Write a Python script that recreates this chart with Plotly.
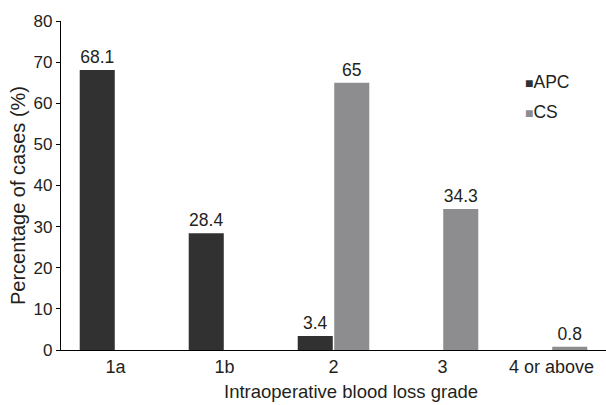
import plotly.graph_objects as go

# Intraoperative blood loss grade distribution by procedure
grades = ["1a", "1b", "2", "3", "4 or above"]
apc_pct = [68.1, 28.4, 3.4, None, None]
cs_pct = [None, None, 65, 34.3, 0.8]

APC_COLOR = "#313131"
CS_COLOR = "#8d8d90"
TEXT_COLOR = "#231f20"
FONT = "Liberation Sans, Arial, Helvetica, sans-serif"
FS = 17.5

W, H = 606, 405
ML, MR, MT, MB = 61, 0, 21, 55
PLOT_W = W - ML - MR
PLOT_H = H - MT - MB


def px_to_paper(px_x, px_y):
    return (px_x - ML) / PLOT_W, 1 - (px_y - MT) / PLOT_H


def labels(values):
    return ["" if v is None else f"{v:g}" for v in values]


fig = go.Figure()
fig.add_trace(go.Bar(
    name="APC", x=grades, y=apc_pct, marker_color=APC_COLOR,
    marker_line_width=0, text=labels(apc_pct), textposition="outside",
    textfont=dict(size=FS, color=TEXT_COLOR), cliponaxis=False,
))
fig.add_trace(go.Bar(
    name="CS", x=grades, y=cs_pct, marker_color=CS_COLOR,
    marker_line_width=0, text=labels(cs_pct), textposition="outside",
    textfont=dict(size=FS, color=TEXT_COLOR), cliponaxis=False,
))

# Compact legend drawn as text: small coloured square followed by the name
for i, (name, color) in enumerate([("APC", APC_COLOR), ("CS", CS_COLOR)]):
    ax, ay = px_to_paper(523, 82 + 30 * i)
    fig.add_annotation(
        x=ax, y=ay, xref="paper", yref="paper", showarrow=False,
        xanchor="left", yanchor="middle",
        text=f"<span style='color:{color};font-size:14px'>■</span>{name}",
        font=dict(size=FS, color=TEXT_COLOR, family=FONT),
    )

# Axis titles
tx, ty = px_to_paper(351, 391)
fig.add_annotation(
    x=tx, y=ty, xref="paper", yref="paper", showarrow=False,
    xanchor="center", yanchor="middle",
    text="Intraoperative blood loss grade",
    font=dict(size=18.5, color=TEXT_COLOR, family=FONT),
)
tx, ty = px_to_paper(18, 196)
fig.add_annotation(
    x=tx, y=ty, xref="paper", yref="paper", showarrow=False,
    xanchor="center", yanchor="middle", textangle=-90,
    text="Percentage of cases (%)",
    font=dict(size=20, color=TEXT_COLOR, family=FONT),
)

fig.update_layout(
    width=W, height=H,
    margin=dict(l=ML, r=MR, t=MT, b=MB),
    paper_bgcolor="white", plot_bgcolor="white",
    font=dict(family=FONT, size=FS, color=TEXT_COLOR),
    barmode="group", bargap=0.33, bargroupgap=0.04,
    showlegend=False,
    uniformtext=dict(minsize=FS, mode="show"),
)
fig.update_xaxes(
    showline=True, linecolor="black", linewidth=1.3, ticks="",
    showgrid=False, zeroline=False,
    tickfont=dict(size=18),
)
fig.update_yaxes(
    range=[0, 80], dtick=10, showline=True, linecolor="black", linewidth=1.3,
    ticks="outside", ticklen=4, tickwidth=1.3, tickcolor="black",
    showgrid=False, zeroline=False,
    tickfont=dict(size=17),
)

fig.write_html("out.html")
